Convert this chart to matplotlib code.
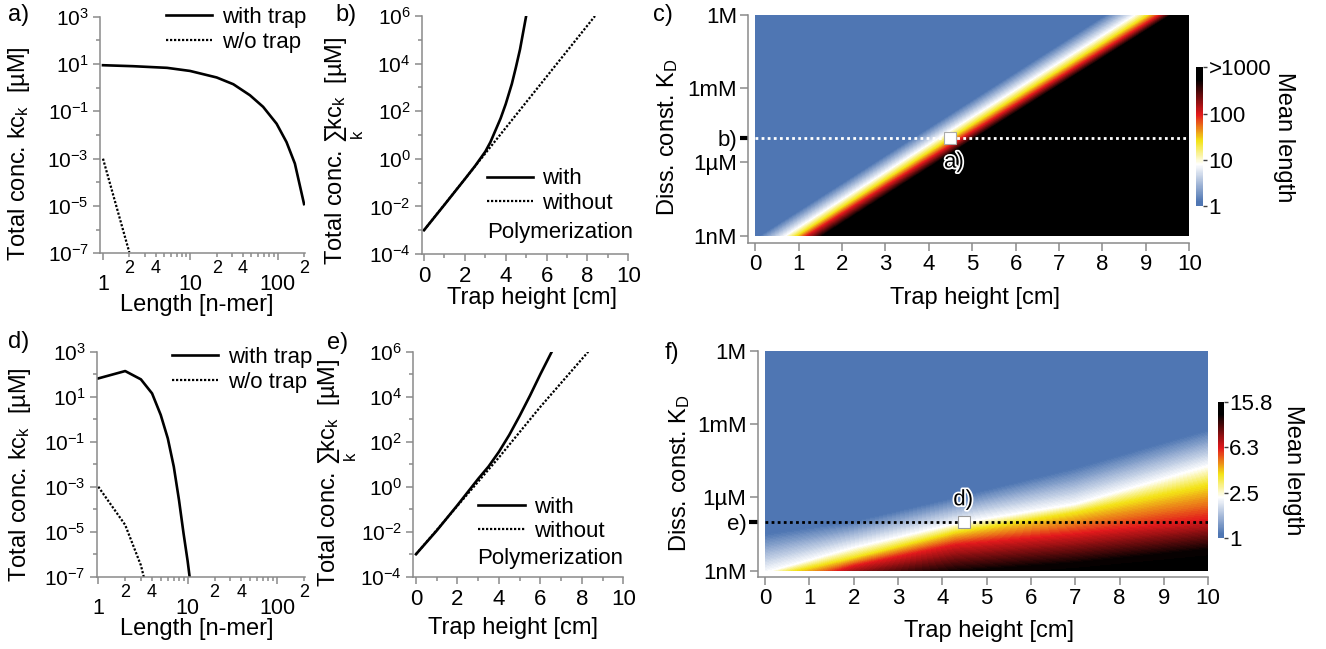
import matplotlib
matplotlib.use("Agg")
import matplotlib.pyplot as plt
import matplotlib.ticker as mticker
import matplotlib.patheffects as pe
import matplotlib.transforms as mtransforms
from matplotlib.colors import LinearSegmentedColormap, Normalize
from matplotlib.cm import ScalarMappable
from matplotlib.patches import Rectangle
import numpy as np

plt.rcParams["font.family"] = ["Liberation Sans", "DejaVu Sans"]
plt.rcParams["mathtext.fontset"] = "custom"
plt.rcParams["mathtext.rm"] = "Liberation Sans"
plt.rcParams["mathtext.it"] = "Liberation Sans:italic"
plt.rcParams["mathtext.bf"] = "Liberation Sans:bold"

# ---- a) / d) length distributions ----
a_len = [1, 2.2, 5.4, 9.9, 20, 31, 48, 68, 97, 126, 157, 200]
a_with = [8.9, 8.1, 6.9, 5.1, 2.7, 1.4, 0.48, 0.155, 0.030, 5.0e-3, 6.2e-4, 1.2e-5]
a_len_wo = [1, 2]
a_wo = [1e-3, 1.1e-7]

d_len = [1, 2, 3, 4, 5, 6, 7, 8, 9, 10, 11]
d_with = [65, 138, 59, 14, 1.55, 0.14, 7.8e-3, 2.6e-4, 8.5e-6, 5.0e-7, 2.5e-8]
d_len_wo = [1, 2, 3, 4]
d_wo = [1e-3, 2e-5, 3.2e-7, 3.2e-9]

# ---- b) / e) total concentration vs trap height ----
b_h = [0, 1, 2, 2.5, 3, 3.25, 3.5, 3.75, 4, 4.3, 4.5, 4.7, 4.85, 5.0]
b_with = [1e-3, 1.17e-2, 0.141, 0.5, 2.0, 5.0, 15.8, 50, 200, 1410, 7080, 3.98e4, 2.0e5, 1e6]
b_h_wo = [0, 8.37]
b_wo = [1e-3, 1e6]

e_h = [0, 1, 2, 3, 3.5, 4, 4.5, 5, 5.5, 6, 6.55]
e_with = [1e-3, 1.12e-2, 0.151, 2.24, 7.9, 35.5, 200, 1410, 1.12e4, 1e5, 1e6]
e_h_wo = [0, 2, 4, 6, 8.31]
e_wo = [1e-3, 0.141, 20, 3550, 1e6]

# ---- c) mean length map: h position of each log10(mean length) level per K_D row ----
c_levels = [0, 0.06, 0.9, 1.41, 1.98, 2.76, 3.0]
c_rows = [-9, -5, 0]
c_pos = [[0, 0.10, 0.72, 0.98, 1.20, 1.58, 10],
         [0, 3.65, 4.27, 4.55, 4.80, 5.12, 10],
         [0, 8.08, 8.79, 9.09, 9.34, 9.62, 10]]

# ---- f) mean length map: log10 K_D position of each level per trap height column ----
f_levels = [0, 0.03, 0.36, 0.56, 0.79, 1.08, 1.2]
f_cols = [0, 2, 4.3, 7, 10]
f_pos = [[1, -7.50, -9.10, -9.30, -9.90, -10.5, -12],
         [1, -6.98, -8.08, -8.48, -8.82, -9.50, -12],
         [1, -6.00, -7.10, -7.43, -7.95, -9.05, -12],
         [1, -4.80, -6.30, -6.64, -7.50, -8.70, -12],
         [1, -3.24, -4.74, -5.50, -6.90, -8.15, -12]]

kd_ticks = [0, -3, -6, -9]
kd_labels = ["1M", "1mM", "1µM", "1nM"]

GRAY = "#8a8a8a"
BLUE = "#4f76b3"
cmap = LinearSegmentedColormap.from_list(
    "meanlen", [(0, BLUE), (0.03, BLUE), (0.30, "#ffffff"), (0.47, "#f3e316"),
                (0.66, "#e3191c"), (0.91, "#000000"), (1, "#000000")])

W, H = 1326, 649
fig = plt.figure(figsize=(W / 100, H / 100), dpi=100)


def px_axes(left, top, right, bottom):
    return fig.add_axes([left / W, 1 - bottom / H, (right - left) / W, (bottom - top) / H])


def style(ax, ticklen=5):
    for s in ["top", "right"]:
        ax.spines[s].set_visible(False)
    for s in ["left", "bottom"]:
        ax.spines[s].set_color(GRAY)
        ax.spines[s].set_linewidth(1.1)
    ax.tick_params(which="both", direction="out", color=GRAY, width=1.1, labelsize=16)
    ax.tick_params(which="major", length=ticklen)
    ax.tick_params(which="minor", length=3)


def log_y(ax, labelled, unlabelled):
    ax.set_yscale("log")
    ax.yaxis.set_major_locator(mticker.FixedLocator([10.0 ** e for e in labelled]))
    ax.yaxis.set_major_formatter(mticker.FixedFormatter([r"$10^{%d}$" % e for e in labelled]))
    ax.yaxis.set_minor_locator(mticker.FixedLocator([10.0 ** e for e in unlabelled]))
    ax.yaxis.set_minor_formatter(mticker.NullFormatter())
    ax.tick_params(axis="y", which="major", pad=3, labelsize=15)


def length_axis(ax):
    ax.set_xscale("log")
    ax.xaxis.set_major_locator(mticker.FixedLocator([1, 10, 100]))
    ax.xaxis.set_major_formatter(mticker.FixedFormatter(["1", "10", "100"]))
    minor = [m * d for d in (1, 10) for m in range(2, 10)] + [200]
    ax.xaxis.set_minor_locator(mticker.FixedLocator(minor))
    shown = {2: "2", 4: "4", 20: "2", 40: "4", 200: "2"}
    ax.xaxis.set_minor_formatter(mticker.FuncFormatter(lambda v, p: shown.get(int(round(v)), "")))
    ax.tick_params(axis="x", which="major", pad=10, labelsize=15.5)
    ax.tick_params(axis="x", which="minor", pad=2, labelsize=13)


def height_axis(ax):
    ax.set_xticks([0, 2, 4, 6, 8, 10])
    ax.set_xticks([1, 3, 5, 7, 9], minor=True)


# ---------- a) ----------
ax_a = px_axes(100, 16.7, 305, 253.3)
style(ax_a)
la1, = ax_a.plot(a_len, a_with, color="black", lw=1.9)
la2, = ax_a.plot(a_len_wo, a_wo, color="black", lw=1.6, ls=(0, (1, 0.8)))
length_axis(ax_a)
log_y(ax_a, [3, 1, -1, -3, -5, -7], [2, 0, -2, -4, -6])
ax_a.set_xlim(0.924, 205)
ax_a.set_ylim(1e-7, 1e3)
ax_a.set_xlabel("Length [n-mer]", fontsize=17)
ax_a.set_ylabel(r"Total conc. kc$_{\rm k}$  [µM]", fontsize=17)
ax_a.xaxis.set_label_coords(0.473, -0.172)
ax_a.yaxis.set_label_coords(-0.33, 0.42)
ax_a.legend([la1, la2], ["with trap", "w/o trap"], loc="upper left", bbox_to_anchor=(0.32, 1.04),
            frameon=False, fontsize=16, handlelength=2.1, handletextpad=0.45,
            labelspacing=0.15, borderaxespad=0, borderpad=0)

# ---------- b) ----------
ax_b = px_axes(421.7, 16, 628.3, 254)
style(ax_b)
lb1, = ax_b.plot(b_h, b_with, color="black", lw=1.9)
lb2, = ax_b.plot(b_h_wo, b_wo, color="black", lw=1.6, ls=(0, (1, 0.8)))
log_y(ax_b, [6, 4, 2, 0, -2, -4], [5, 3, 1, -1, -3])
height_axis(ax_b)
ax_b.set_xlim(-0.113, 10)
ax_b.set_ylim(1e-4, 1e6)
ax_b.set_xlabel("Trap height [cm]", fontsize=17)
ax_b.set_ylabel(r"Total conc. $\sum_{\rm k}$kc$_{\rm k}$  [µM]", fontsize=17)
ax_b.xaxis.set_label_coords(0.532, -0.14)
ax_b.yaxis.set_label_coords(-0.27, 0.434)
ax_b.legend([lb1, lb2], ["with", "without"], loc="upper left", bbox_to_anchor=(0.315, 0.36),
            frameon=False, fontsize=16, handlelength=2.1, handletextpad=0.4,
            labelspacing=0.15, borderaxespad=0, borderpad=0)
ax_b.text(0.315, 0.09, "Polymerization", transform=ax_b.transAxes, fontsize=16, va="center")

# ---------- d) ----------
ax_d = px_axes(96.7, 351.7, 305, 576.7)
style(ax_d)
ld1, = ax_d.plot(d_len, d_with, color="black", lw=1.9)
ld2, = ax_d.plot(d_len_wo, d_wo, color="black", lw=1.6, ls=(0, (1, 0.8)))
length_axis(ax_d)
log_y(ax_d, [3, 1, -1, -3, -5, -7], [2, 0, -2, -4, -6])
ax_d.set_xlim(0.96, 206)
ax_d.set_ylim(1e-7, 1e3)
ax_d.set_xlabel("Length [n-mer]", fontsize=17)
ax_d.set_ylabel(r"Total conc. kc$_{\rm k}$  [µM]", fontsize=17)
ax_d.xaxis.set_label_coords(0.48, -0.185)
ax_d.yaxis.set_label_coords(-0.305, 0.452)
ax_d.legend([ld1, ld2], ["with trap", "w/o trap"], loc="upper left", bbox_to_anchor=(0.36, 1.02),
            frameon=False, fontsize=16, handlelength=2.1, handletextpad=0.45,
            labelspacing=0.15, borderaxespad=0, borderpad=0)

# ---------- e) ----------
ax_e = px_axes(413.3, 351.7, 623.3, 576.7)
style(ax_e)
le1, = ax_e.plot(e_h, e_with, color="black", lw=1.9)
le2, = ax_e.plot(e_h_wo, e_wo, color="black", lw=1.6, ls=(0, (1, 0.8)))
log_y(ax_e, [6, 4, 2, 0, -2, -4], [5, 3, 1, -1, -3])
height_axis(ax_e)
ax_e.set_xlim(-0.13, 10)
ax_e.set_ylim(1e-4, 1e6)
ax_e.set_xlabel("Trap height [cm]", fontsize=17)
ax_e.set_ylabel(r"Total conc. $\sum_{\rm k}$kc$_{\rm k}$  [µM]", fontsize=17)
ax_e.xaxis.set_label_coords(0.476, -0.18)
ax_e.yaxis.set_label_coords(-0.26, 0.463)
ax_e.legend([le1, le2], ["with", "without"], loc="upper left", bbox_to_anchor=(0.308, 0.355),
            frameon=False, fontsize=16, handlelength=2.1, handletextpad=0.4,
            labelspacing=0.15, borderaxespad=0, borderpad=0)
ax_e.text(0.302, 0.08, "Polymerization", transform=ax_e.transAxes, fontsize=16, va="center")


# ---------- c) / f) maps ----------
def map_axes(ax, extra_tick, extra_label, xlim_left, ylim_bottom):
    style(ax, ticklen=6)
    ax.set_xlim(xlim_left, 10)
    ax.set_ylim(ylim_bottom, 0)
    ax.set_xticks(range(11))
    ax.set_yticks(kd_ticks + [extra_tick])
    ax.set_yticklabels(kd_labels + [extra_label])
    ax.tick_params(labelsize=16, pad=2)
    # thick black marker tick for the cut shown in the neighbouring panel
    blend = mtransforms.blended_transform_factory(ax.transAxes, ax.transData)
    ax.plot([-0.019, 0], [extra_tick, extra_tick], color="black", lw=3,
            transform=blend, clip_on=False, solid_capstyle="butt")
    ax.set_xlabel("Trap height [cm]", fontsize=17)
    ax.set_ylabel(r"Diss. const. K$_{\rm D}$", fontsize=17)


ax_c = px_axes(748.1, 14.7, 1189.2, 243.3)
Xc = np.array(c_pos, dtype=float)
Yc = np.array(c_rows, dtype=float)[:, None] * np.ones_like(Xc)
Zc = np.tile(c_levels, (len(c_rows), 1))
csc = ax_c.contourf(Xc, Yc, Zc, levels=np.linspace(0, 3, 121), cmap=cmap,
                    norm=Normalize(0, 3), antialiased=False)
csc.set_clip_path(Rectangle((0, -9), 10, 9, transform=ax_c.transData))
ax_c.plot([0, 10], [-5, -5], color="white", lw=2.0, ls=(0, (1, 1.2)))
ax_c.plot(4.5, -5, "s", ms=8, mfc="white", mec="#aaaaaa", mew=0.8)
ax_c.text(4.58, -6.0, "a)", fontsize=16, color="black", ha="center", va="center",
          path_effects=[pe.withStroke(linewidth=2.5, foreground="white")])
map_axes(ax_c, -5, "b)", -0.163, -9.3)
ax_c.xaxis.set_label_coords(0.514, -0.19)
ax_c.yaxis.set_label_coords(-0.154, 0.463)

ax_f = px_axes(757.7, 350.7, 1208.1, 577.3)
Yf = np.array(f_pos, dtype=float)
Xf = np.array(f_cols, dtype=float)[:, None] * np.ones_like(Yf)
Zf = np.tile(f_levels, (len(f_cols), 1))
csf = ax_f.contourf(Xf, Yf, Zf, levels=np.linspace(0, 1.2, 97), cmap=cmap,
                    norm=Normalize(0, 1.2), antialiased=False)
csf.set_clip_path(Rectangle((0, -9), 10, 9, transform=ax_f.transData))
ax_f.plot([0, 10], [-7, -7], color="black", lw=2.0, ls=(0, (1, 1.2)))
ax_f.plot(4.5, -7, "s", ms=8, mfc="white", mec="#999999", mew=0.8)
ax_f.text(4.47, -6.1, "d)", fontsize=16, color="black", ha="center", va="center",
          path_effects=[pe.withStroke(linewidth=2.5, foreground="white")])
map_axes(ax_f, -7, "e)", -0.169, -9.27)
ax_f.xaxis.set_label_coords(0.514, -0.19)
ax_f.yaxis.set_label_coords(-0.146, 0.46)

# colorbars
cax_c = px_axes(1196, 67.3, 1203, 206)
cb_c = fig.colorbar(ScalarMappable(norm=Normalize(0, 3), cmap=cmap), cax=cax_c, ticks=[0, 1, 2, 3])
cb_c.set_ticklabels(["1", "10", "100", ">1000"])
cax_f = px_axes(1217.8, 401.7, 1223.5, 538.3)
cb_f = fig.colorbar(ScalarMappable(norm=Normalize(0, 1.2), cmap=cmap), cax=cax_f,
                    ticks=[0, 0.4, 0.8, 1.2])
cb_f.set_ticklabels(["1", "2.5", "6.3", "15.8"])
for cb in (cb_c, cb_f):
    cb.outline.set_visible(False)
    cb.ax.tick_params(length=3, width=1, color="#404040", labelsize=16, pad=1)

fig.text(1283.7 / W, 1 - 136.7 / H, "Mean length", rotation=270, fontsize=17, ha="center", va="center")
fig.text(1293.3 / W, 1 - 470 / H, "Mean length", rotation=270, fontsize=17, ha="center", va="center")

# panel letters
for lab, x, y in [("a)", 8, 15), ("b)", 335, 15), ("c)", 653, 15),
                  ("d)", 8, 342), ("e)", 327, 343), ("f)", 665, 353)]:
    fig.text(x / W, 1 - y / H, lab, fontsize=17, ha="left", va="center")

fig.savefig("out.png", dpi=100)
